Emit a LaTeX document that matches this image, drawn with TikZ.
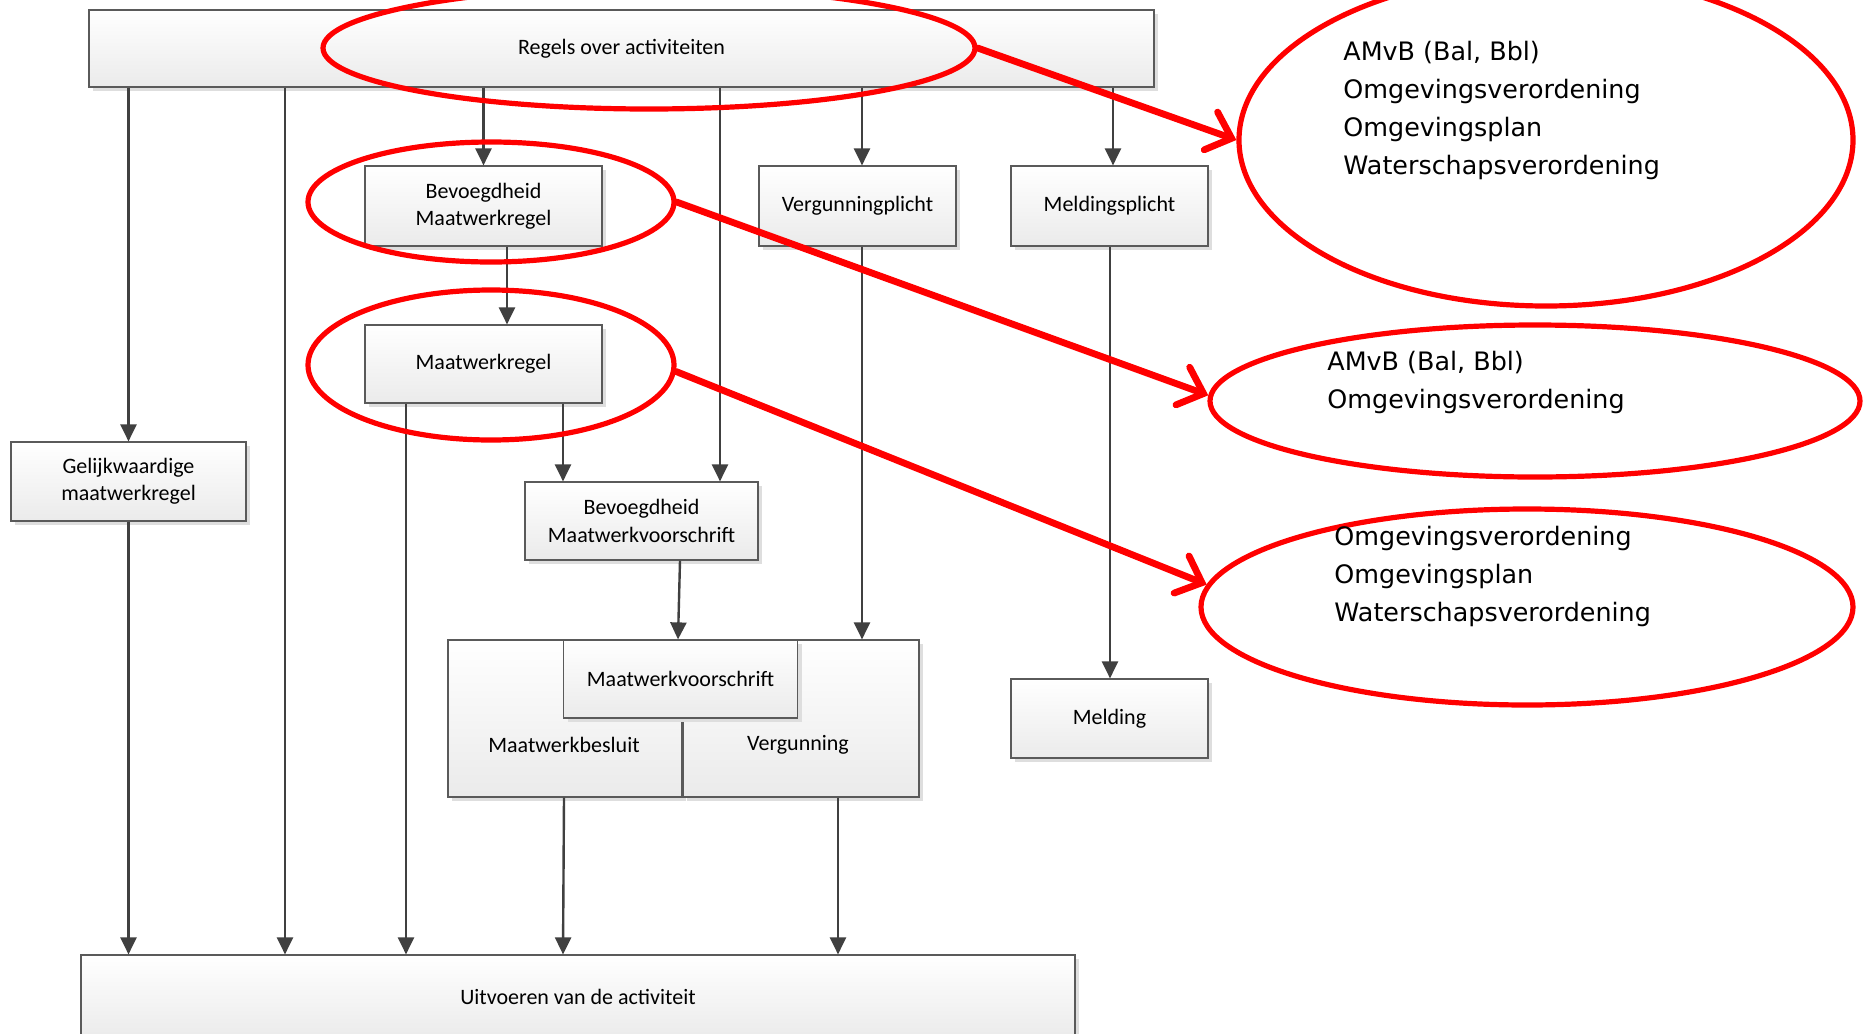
\documentclass[tikz,border=0pt]{standalone}
\usepackage{fontspec}
\setmainfont{Carlito}
\newfontfamily\ellfont{DejaVu Sans}
\usetikzlibrary{arrows.meta,shapes.geometric,shadows}
\definecolor{linegray}{HTML}{404040}
\definecolor{boxborder}{HTML}{5A5A5A}
\definecolor{shadowgray}{HTML}{DEDEDE}
\definecolor{markred}{HTML}{FF0000}
\begin{document}
\begin{tikzpicture}[x=0.5pt,y=-0.5pt,
  box/.style={draw=boxborder, line width=0.6pt, top color=white, bottom color=black!8,
    drop shadow={shadow xshift=2.2pt, shadow yshift=-2.2pt, fill=shadowgray, opacity=1},
    inner sep=0pt, font=\fontsize{11}{13.6}\selectfont, align=center, text=black},
  boxtext/.style={inner sep=0pt, font=\fontsize{11}{13.6}\selectfont, text=black},
  conn/.style={draw=linegray, line width=1.2pt, -{Triangle[length=8.5pt,width=8pt]}},
  ell/.style={ellipse, draw=markred, line width=2.6pt, inner sep=0pt},
  elltext/.style={inner sep=0pt, anchor=west, align=left, font=\ellfont\fontsize{12.7}{19}\selectfont, text=black},
  redarrow/.style={draw=markred, line width=3.4pt, line cap=round, -{Straight Barb[length=11pt,width=20pt,line cap=round]}}]
\useasboundingbox (0,0) rectangle (1865,1034);
\clip (0,0) rectangle (1865,1034);
\fill[white] (0,0) rectangle (1865,1034);

% boxes
\node[box, minimum width=532.5pt, minimum height=38.5pt] (regels) at (621.5,48.5) {Regels over activiteiten};
\node[box, minimum width=118.5pt, minimum height=40pt] (bm) at (483.5,206) {Bevoegdheid\\Maatwerkregel};
\node[box, minimum width=98.5pt, minimum height=40pt] (vp) at (857.5,206) {Vergunningplicht};
\node[box, minimum width=98.5pt, minimum height=40pt] (mp) at (1109.5,206) {Meldingsplicht};
\node[box, minimum width=118.5pt, minimum height=39pt] (mr) at (483.5,364) {Maatwerkregel};
\node[box, minimum width=117.5pt, minimum height=39.5pt] (gm) at (128.5,481.5) {Gelijkwaardige\\maatwerkregel};
\node[box, minimum width=116.5pt, minimum height=39pt] (bmv) at (641.5,521) {Bevoegdheid\\Maatwerkvoorschrift};
\node[box, minimum width=117pt, minimum height=78.5pt] (mb) at (565,718.5) {};
\node[box, minimum width=118pt, minimum height=78.5pt] (vg) at (801,718.5) {};
\node[boxtext] (mbt) at (564,745) {Maatwerkbesluit};
\node[boxtext] (vgt) at (798,745) {Vergunning};
\node[box, minimum width=117pt, minimum height=39pt] (mv) at (680.5,679) {Maatwerkvoorschrift};
\node[box, minimum width=98.5pt, minimum height=39.5pt] (ml) at (1109.5,718.5) {Melding};
\node[box, minimum width=497pt, minimum height=42pt] (uv) at (578,997) {Uitvoeren van de activiteit};

% connector x positions
\coordinate (x285) at (285,0);
\coordinate (x720) at (720,0);
\coordinate (x862) at (862,0);
\coordinate (x1113) at (1113,0);
\coordinate (x507) at (507,0);
\coordinate (x406) at (406,0);
\coordinate (x563) at (563,0);
\coordinate (x564) at (564,0);
\coordinate (x680) at (680,0);
\coordinate (x678) at (678,0);
\coordinate (x1110) at (1110,0);
\coordinate (x838) at (838,0);

% connectors
\draw[conn] (regels.south -| gm.north) -- (gm.north);
\draw[conn] (regels.south -| x285) -- (uv.north -| x285);
\draw[conn] (regels.south -| bm.north) -- (bm.north);
\draw[conn] (regels.south -| x720) -- (bmv.north -| x720);
\draw[conn] (regels.south -| x862) -- (vp.north -| x862);
\draw[conn] (regels.south -| x1113) -- (mp.north -| x1113);
\draw[conn] (bm.south -| x507) -- (mr.north -| x507);
\draw[conn] (mr.south -| x406) -- (uv.north -| x406);
\draw[conn] (mr.south -| x563) -- (bmv.north -| x563);
\draw[conn] (bmv.south -| x680) -- (mv.north -| x678);
\draw[conn] (vp.south -| x862) -- (vg.north -| x862);
\draw[conn] (mp.south -| x1110) -- (ml.north -| x1110);
\draw[conn] (gm.south) -- (uv.north -| gm.south);
\draw[conn] (mb.south -| x564) -- (uv.north -| x563);
\draw[conn] (vg.south -| x838) -- (uv.north -| x838);

% red ellipses
\node[ell, minimum width=326pt, minimum height=61pt] (e1) at (649,48) {};
\node[ell, minimum width=183pt, minimum height=60pt] (e2) at (491,202) {};
\node[ell, minimum width=183pt, minimum height=75pt] (e3) at (491,365) {};
\node[ell, minimum width=307pt, minimum height=166pt] (e4) at (1546,140) {};
\node[ell, minimum width=325pt, minimum height=76pt] (e5) at (1535,401) {};
\node[ell, minimum width=326pt, minimum height=98pt] (e6) at (1527,607) {};

\node[elltext] (t4) at (1343,110.6) {AMvB (Bal, Bbl)\\Omgevingsverordening\\Omgevingsplan\\Waterschapsverordening};
\node[elltext] (t5) at (1327,382.5) {AMvB (Bal, Bbl)\\Omgevingsverordening};
\node[elltext] (t6) at (1334,576) {Omgevingsverordening\\Omgevingsplan\\Waterschapsverordening};

% red arrows
\draw[redarrow] (e1.east) -- (e4.west);
\draw[redarrow] (e2.east) -- (e5.179);
\draw[redarrow] (e3.358) -- (e6.176);
\end{tikzpicture}
\end{document}
